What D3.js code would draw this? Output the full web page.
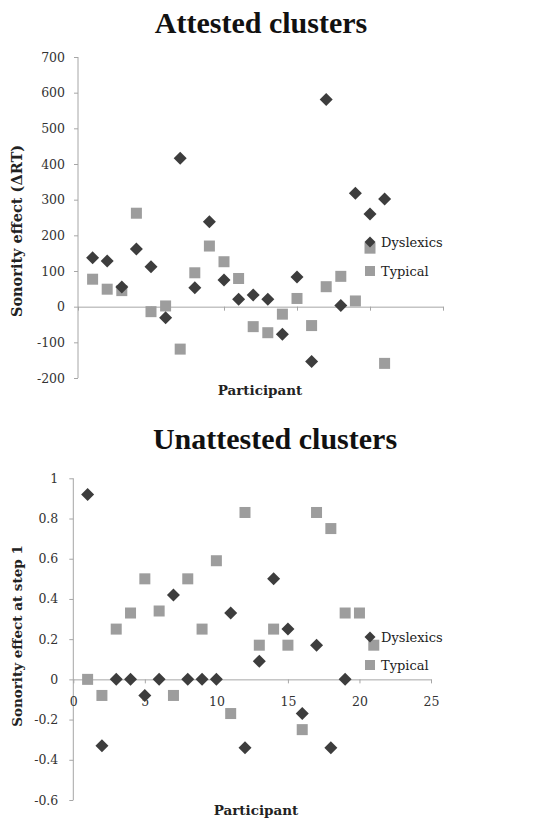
<!DOCTYPE html>
<html>
<head>
<meta charset="utf-8">
<script src="https://cdn.jsdelivr.net/npm/d3@7"></script>
<style>
  body { margin: 0; background: #fff; }
  svg { display: block; }
  .axis path, .axis line { stroke: #a6a6a6; }
  .axis text { font-family: "DejaVu Serif", serif; font-size: 12.5px; fill: #333; }
  .title { font-family: "Liberation Serif", serif; font-weight: bold; font-size: 30px; fill: #111; }
  .lab { font-family: "DejaVu Serif", serif; font-weight: bold; font-size: 13.5px; fill: #222; }
  .leg { font-family: "DejaVu Serif", serif; font-size: 13px; fill: #222; }
</style>
</head>
<body>
<script>
// --- data ---
const participants = d3.range(1, 22);
const attestedDyslexics = [137, 128, 55, 162, 112, -31, 416, 53, 238, 75, 21, 33, 21, -77, 83, -154, 581, 3, 318, 260, 302];
const attestedTypical   = [77, 49, 45, 262, -14, 2, -119, 95, 170, 126, 79, -56, -73, -21, 23, -53, 56, 85, 16, 164, -159];
const unattestedDyslexics = [0.92, -0.33, 0, 0, -0.08, 0, 0.42, 0, 0, 0, 0.33, -0.34, 0.09, 0.5, 0.25, -0.17, 0.17, -0.34, 0];
const unattestedTypical   = [0, -0.08, 0.25, 0.33, 0.5, 0.34, -0.08, 0.5, 0.25, 0.59, -0.17, 0.83, 0.17, 0.25, 0.17, -0.25, 0.83, 0.75, 0.33, 0.33, 0.17];
const xTicks = [0, 5, 10, 15, 20, 25];
const attestedYTicks = [700, 600, 500, 400, 300, 200, 100, 0, -100, -200];
const unattestedYTicks = [1, 0.8, 0.6, 0.4, 0.2, 0, -0.2, -0.4, -0.6];

const W = 549, H = 822;
const DARK = "#3d3d3d", LIGHT = "#9d9d9d";

const svg = d3.select("body").append("svg").attr("width", W).attr("height", H);

function drawDiamond(g, cx, cy, r) {
  g.append("path")
    .attr("d", `M${cx},${cy - r}L${cx + r},${cy}L${cx},${cy + r}L${cx - r},${cy}Z`)
    .attr("fill", DARK);
}
function drawSquare(g, cx, cy, s) {
  g.append("rect").attr("x", cx - s / 2).attr("y", cy - s / 2)
    .attr("width", s).attr("height", s).attr("fill", LIGHT);
}

function panel(opt) {
  const g = svg.append("g");
  const x = d3.scaleLinear().domain([0, 25]).range(opt.xr);
  const y = d3.scaleLinear().domain(opt.yd).range(opt.yr);

  g.append("text").attr("class", "title").attr("x", opt.titleX).attr("y", opt.titleY)
    .attr("text-anchor", "middle").text(opt.title);

  // y axis
  const ya = g.append("g").attr("class", "axis").attr("transform", `translate(${opt.xr[0]},0)`)
    .call(d3.axisLeft(y).tickValues(opt.yTicks).tickSize(4).tickSizeOuter(0).tickPadding(opt.yPad)
      .tickFormat(d => String(+d.toFixed(1))));
  ya.select(".domain").attr("d", `M0,${y.range()[0]}V${y.range()[1]}`);

  // x axis at zero
  g.append("g").attr("class", "axis").attr("transform", `translate(0,${y(0)})`)
    .call(d3.axisBottom(x).tickValues(xTicks).tickSize(4).tickSizeOuter(0).tickPadding(14)
      .tickFormat(opt.xLabels ? d => d : () => ""));

  // points: squares first, diamonds on top
  const pts = g.append("g");
  opt.typical.forEach((v, i) => drawSquare(pts, x(participants[i]), y(v), 11));
  opt.dys.forEach((v, i) => drawDiamond(pts, x(participants[i]), y(v), 6.5));

  // axis titles
  g.append("text").attr("class", "lab")
    .attr("transform", `translate(${opt.yLabX},${opt.yLabY}) rotate(-90)`)
    .attr("text-anchor", "middle").style("font-size", opt.yLabSize + "px").text(opt.yLabel);
  g.append("text").attr("class", "lab").attr("x", opt.xLabX).attr("y", opt.xLabY)
    .attr("text-anchor", "middle").text("Participant");

  // legend
  const lg = g.append("g").attr("transform", `translate(${opt.legX},${opt.legY})`);
  drawDiamond(lg, 0, 0, 5.5);
  lg.append("text").attr("class", "leg").attr("x", 11).attr("y", 4.5).text("Dyslexics");
  drawSquare(lg, 0, opt.legGap, 10);
  lg.append("text").attr("class", "leg").attr("x", 11).attr("y", opt.legGap + 4.5).text("Typical");
}

panel({
  title: "Attested clusters", titleX: 261, titleY: 33,
  xr: [78, 443], yd: [-200, 700], yr: [378, 57], yTicks: attestedYTicks, yPad: 9,
  xLabels: false, dys: attestedDyslexics, typical: attestedTypical,
  yLabel: "Sonority effect (ΔRT)", yLabX: 22, yLabY: 231, yLabSize: 14.5,
  xLabX: 260, xLabY: 395, legX: 370, legY: 242, legGap: 29
});

panel({
  title: "Unattested clusters", titleX: 275, titleY: 449,
  xr: [73.3, 431], yd: [-0.6, 1], yr: [800, 478.3], yTicks: unattestedYTicks, yPad: 11,
  xLabels: true, dys: unattestedDyslexics, typical: unattestedTypical,
  yLabel: "Sonority effect at step 1", yLabX: 22, yLabY: 636, yLabSize: 13.5,
  xLabX: 256, xLabY: 815, legX: 370, legY: 637, legGap: 28
});
</script>
</body>
</html>
